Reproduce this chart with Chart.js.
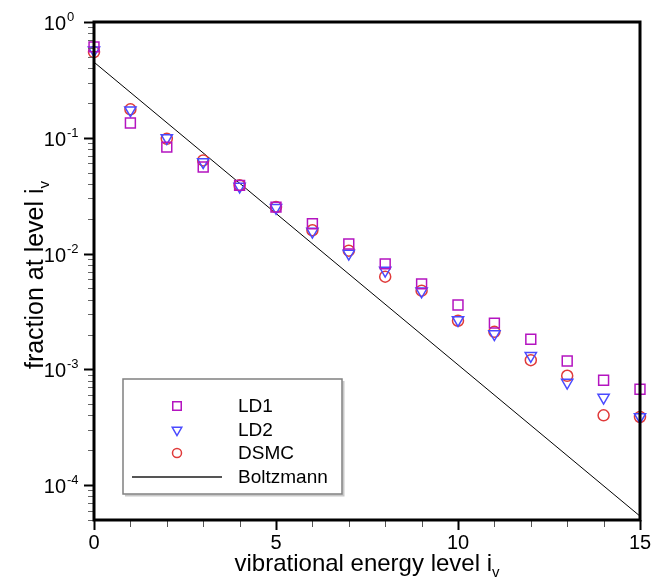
<!DOCTYPE html>
<html>
<head>
<meta charset="utf-8">
<script src="https://cdn.jsdelivr.net/npm/chart.js@4/dist/chart.umd.min.js"></script>
<style>
  html, body { margin: 0; padding: 0; background: #fff; }
  #chart { display: block; }
</style>
</head>
<body>
<canvas id="chart" width="654" height="580"></canvas>
<script>
// vibrational level populations
const levels  = [0, 1, 2, 3, 4, 5, 6, 7, 8, 9, 10, 11, 12, 13, 14, 15];
const ld1     = [0.61, 0.134, 0.083, 0.056, 0.0388, 0.0252, 0.0181, 0.0121, 0.00814, 0.00547, 0.0036, 0.00251, 0.00182, 0.00118, 0.000806, 0.000673];
const ld2     = [0.57, 0.173, 0.0996, 0.0617, 0.038, 0.0249, 0.0155, 0.0100, 0.00713, 0.00472, 0.00267, 0.00202, 0.00131, 0.00077, 0.00057, 0.000388];
const dsmc    = [0.55, 0.176, 0.098, 0.0638, 0.0389, 0.0252, 0.0159, 0.0106, 0.00632, 0.00478, 0.00263, 0.00211, 0.0012, 0.00088, 0.000401, 0.000388];
// Boltzmann distribution is a straight line on the log axis
const bLevels   = [0, 15];
const boltzmann = [0.45, 5.4e-5];

const xMajor = [0, 5, 10, 15];
const yMajor = [1, 0.1, 0.01, 0.001, 0.0001];
const yExp   = ['0', '-1', '-2', '-3', '-4'];

const FONT = '"Liberation Sans", Arial, sans-serif';

const pts = (xs, ys) => xs.map((x, i) => ({ x: x, y: ys[i] }));

// frame, ticks, tick labels and axis titles
const axesPlugin = {
  id: 'axesPlugin',
  afterDatasetsDraw(chart) {
    const { ctx, chartArea: a } = chart;
    const xs = chart.scales.x, ys = chart.scales.y;
    ctx.save();

    // x ticks
    for (let v = 0; v <= 15; v++) {
      const px = Math.round(xs.getPixelForValue(v)) + 0.5;
      const major = xMajor.includes(v);
      ctx.lineWidth = major ? 2 : 1;
      ctx.strokeStyle = major ? '#000' : '#555';
      ctx.beginPath();
      ctx.moveTo(px, a.bottom);
      ctx.lineTo(px, a.bottom + (major ? 10 : 7));
      ctx.stroke();
    }
    // y ticks (decades + minor 2..9)
    for (let e = -5; e <= 0; e++) {
      for (let m = 1; m <= 9; m++) {
        const v = m * Math.pow(10, e);
        if (v < ys.min * 0.999 || v > ys.max * 1.001) continue;
        const py = Math.round(ys.getPixelForValue(v)) + 0.5;
        const major = m === 1;
        ctx.lineWidth = major ? 2 : 1;
        ctx.strokeStyle = major ? '#000' : '#666';
        ctx.beginPath();
        ctx.moveTo(a.left, py);
        ctx.lineTo(a.left - (major ? 10 : 6), py);
        ctx.stroke();
      }
    }

    // frame
    ctx.lineWidth = 3;
    ctx.strokeStyle = '#000';
    ctx.strokeRect(a.left, a.top, a.right - a.left, a.bottom - a.top);

    // x tick labels
    ctx.fillStyle = '#000';
    ctx.font = '20px ' + FONT;
    ctx.textAlign = 'center';
    ctx.textBaseline = 'alphabetic';
    xMajor.forEach(v => {
      ctx.fillText(String(v), xs.getPixelForValue(v), a.bottom + 29);
    });

    // y tick labels 10^n
    yMajor.forEach((v, i) => {
      const py = ys.getPixelForValue(v);
      ctx.font = '20px ' + FONT;
      ctx.textAlign = 'right';
      ctx.fillText('10', 66, py + 8);
      ctx.font = '13px ' + FONT;
      ctx.textAlign = 'left';
      ctx.fillText(yExp[i], 67, py - 1);
    });

    // x title
    const cx = (a.left + a.right) / 2;
    ctx.textAlign = 'left';
    ctx.font = '15px ' + FONT;
    const subW = ctx.measureText('v').width;
    ctx.font = '24px ' + FONT;
    const main = 'vibrational energy level i';
    const mainW = ctx.measureText(main).width;
    const sx = cx - (mainW + subW) / 2;
    ctx.fillText(main, sx, 571);
    ctx.font = '15px ' + FONT;
    ctx.fillText('v', sx + mainW, 577);

    // y title
    const cy = (a.top + a.bottom) / 2 + 4;
    ctx.save();
    ctx.translate(43, cy);
    ctx.rotate(-Math.PI / 2);
    ctx.font = '25px ' + FONT;
    const ymain = 'fraction at level i';
    const ymainW = ctx.measureText(ymain).width;
    const ystart = -(ymainW + subW) / 2;
    ctx.fillText(ymain, ystart, 0);
    ctx.font = '15px ' + FONT;
    ctx.fillText('v', ystart + ymainW, 6);
    ctx.restore();

    ctx.restore();
  }
};

// boxed legend inside the plot, lower left
const legendPlugin = {
  id: 'legendPlugin',
  afterDraw(chart) {
    const { ctx } = chart;
    const box = { l: 123, t: 379, r: 342, b: 494 };
    ctx.save();
    ctx.fillStyle = '#fff';
    ctx.fillRect(box.l, box.t, box.r - box.l, box.b - box.t);
    ctx.strokeStyle = '#c8c8c8';
    ctx.lineWidth = 2;
    ctx.beginPath();
    ctx.moveTo(box.l + 2, box.b + 1.5);
    ctx.lineTo(box.r + 1.5, box.b + 1.5);
    ctx.lineTo(box.r + 1.5, box.t + 2);
    ctx.stroke();
    ctx.strokeStyle = '#808080';
    ctx.lineWidth = 1.5;
    ctx.strokeRect(box.l, box.t, box.r - box.l, box.b - box.t);

    const rows = [406, 430, 453, 477];
    chart.data.datasets.forEach((ds, i) => {
      const y = rows[i];
      if (ds.showLine) {
        ctx.strokeStyle = '#555';
        ctx.lineWidth = 2;
        ctx.beginPath();
        ctx.moveTo(132, y);
        ctx.lineTo(222, y);
        ctx.stroke();
      } else {
        ctx.fillStyle = 'rgba(0,0,0,0)';
        ctx.strokeStyle = ds.borderColor;
        ctx.lineWidth = ds.borderWidth;
        Chart.helpers.drawPoint(ctx, {
          pointStyle: ds.pointStyle,
          rotation: ds.pointRotation || 0,
          radius: ds.pointRadius - 1,
          borderWidth: ds.borderWidth
        }, 177, y);
      }
      ctx.fillStyle = '#000';
      ctx.font = '19px ' + FONT;
      ctx.textAlign = 'left';
      ctx.textBaseline = 'middle';
      ctx.fillText(ds.label, 238, y + 1);
    });
    ctx.restore();
  }
};

const markerSet = (label, data, style, color, radius, rot) => ({
  label: label,
  data: pts(levels, data),
  showLine: false,
  pointStyle: style,
  pointRadius: radius,
  pointRotation: rot || 0,
  pointBackgroundColor: 'rgba(0,0,0,0)',
  pointBorderColor: color,
  borderColor: color,
  pointBorderWidth: 1.5,
  borderWidth: 1.5
});

new Chart(document.getElementById('chart'), {
  type: 'scatter',
  data: {
    datasets: [
      markerSet('LD1', ld1, 'rect', '#b414c0', 7),
      markerSet('LD2', ld2, 'triangle', '#4a4aff', 6.5, 180),
      markerSet('DSMC', dsmc, 'circle', '#e03a3a', 5.5),
      {
        label: 'Boltzmann',
        data: pts(bLevels, boltzmann),
        showLine: true,
        borderColor: '#000',
        borderWidth: 1,
        pointRadius: 0,
        order: 10
      }
    ]
  },
  options: {
    responsive: false,
    devicePixelRatio: 1,
    animation: false,
    clip: false,
    layout: { padding: { left: 94, right: 14, top: 22, bottom: 60 } },
    plugins: { legend: { display: false }, tooltip: { enabled: false } },
    scales: {
      x: { type: 'linear', min: 0, max: 15, display: false },
      y: { type: 'logarithmic', min: 5e-5, max: 1, display: false }
    }
  },
  plugins: [axesPlugin, legendPlugin]
});
</script>
</body>
</html>
